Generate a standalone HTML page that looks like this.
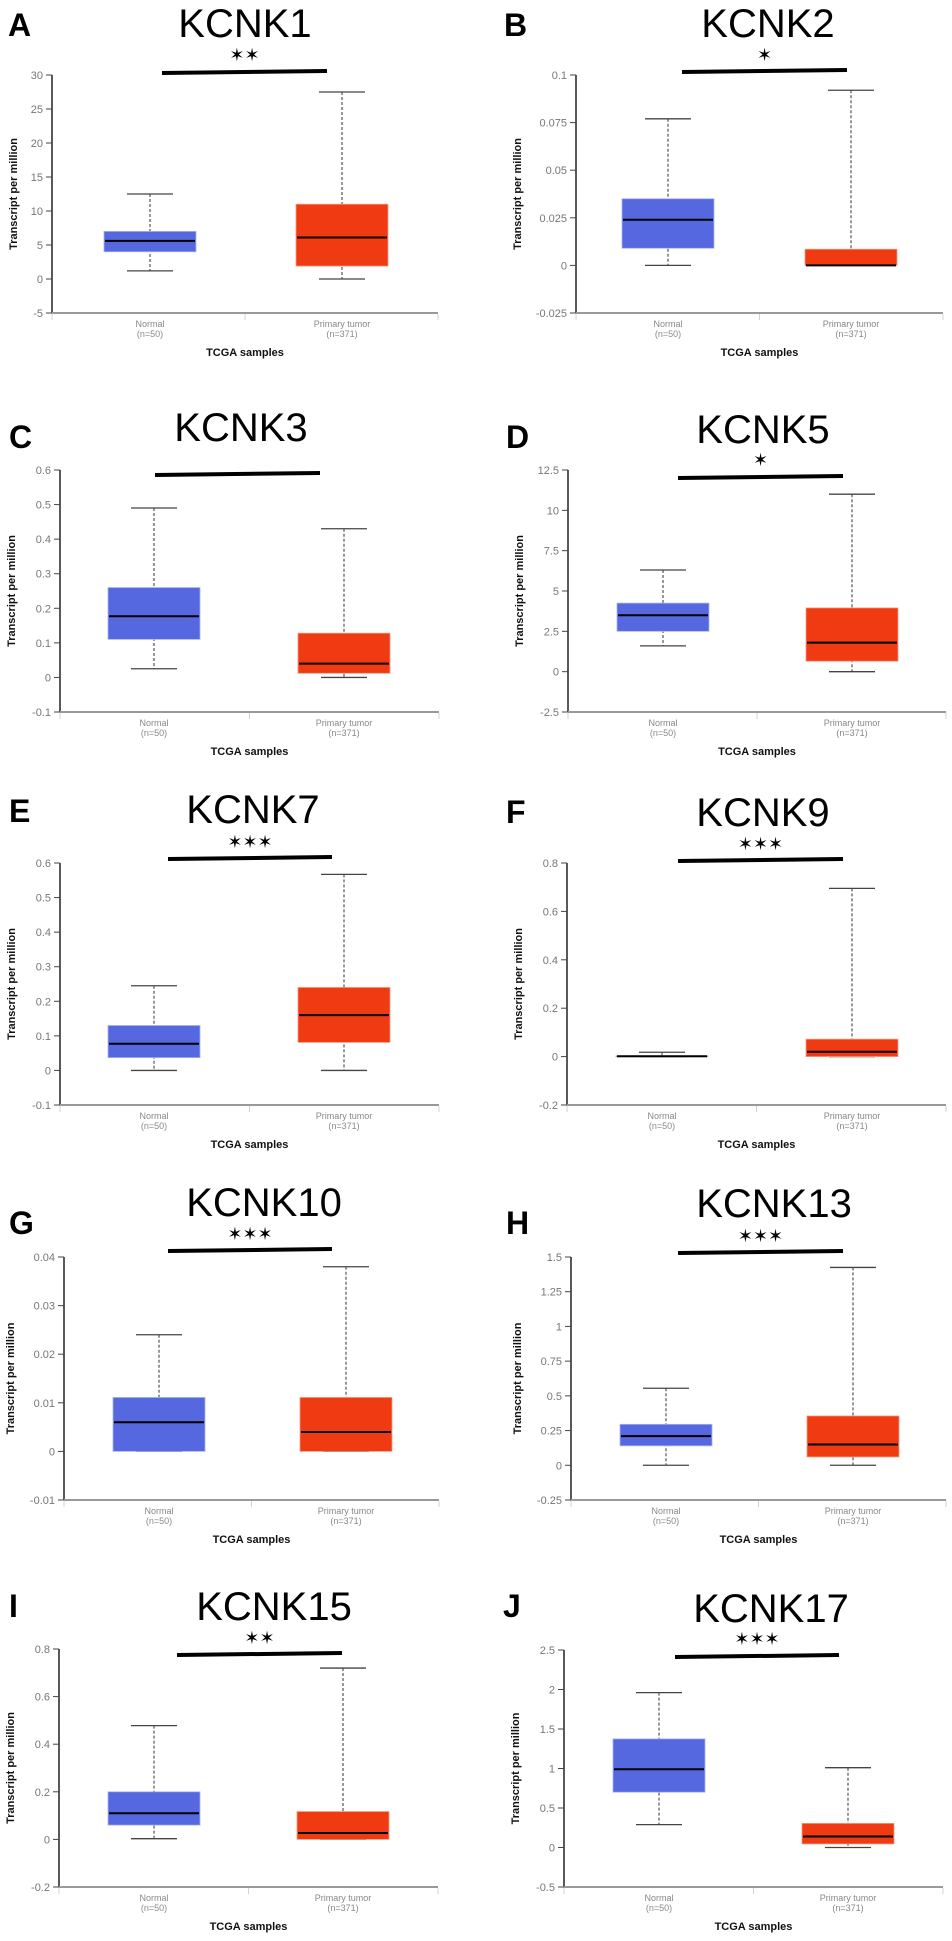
<!DOCTYPE html>
<html><head><meta charset="utf-8">
<style>
html,body{margin:0;padding:0;background:#fff;}
svg{display:block;font-family:"Liberation Sans",sans-serif;}
</style></head>
<body>
<svg id="fig" width="952" height="1941" viewBox="0 0 952 1941" xmlns="http://www.w3.org/2000/svg"></svg>
<script>
// ---- data (per panel) ----
const genes = ["KCNK1","KCNK2","KCNK3","KCNK5","KCNK7","KCNK9","KCNK10","KCNK13","KCNK15","KCNK17"];
const letters = ["A","B","C","D","E","F","G","H","I","J"];
const stars = ["✶✶","✶","","✶","✶✶✶","✶✶✶","✶✶✶","✶✶✶","✶✶","✶✶✶"];
// [min, q1, median, q3, max]
const normalStats = [
  [1.2,4,5.6,7,12.5],
  [0,0.009,0.024,0.035,0.077],
  [0.025,0.11,0.177,0.26,0.49],
  [1.6,2.5,3.5,4.25,6.3],
  [0,0.037,0.077,0.13,0.245],
  [0,0,0.0015,0.003,0.018],
  [0,0,0.006,0.0111,0.024],
  [0,0.14,0.21,0.295,0.555],
  [0.003,0.06,0.11,0.2,0.478],
  [0.29,0.7,0.99,1.375,1.96]
];
const tumorStats = [
  [0,1.9,6.1,11,27.5],
  [0,0,0,0.0085,0.092],
  [0,0.012,0.04,0.128,0.43],
  [0,0.65,1.8,3.95,11],
  [0,0.081,0.16,0.24,0.567],
  [0,0,0.02,0.072,0.695],
  [0,0,0.004,0.0111,0.038],
  [0,0.06,0.15,0.355,1.425],
  [0,0,0.027,0.117,0.72],
  [0,0.045,0.14,0.305,1.01]
];
const tickLabels = [
  ["-5","0","5","10","15","20","25","30"],
  ["-0.025","0","0.025","0.05","0.075","0.1"],
  ["-0.1","0","0.1","0.2","0.3","0.4","0.5","0.6"],
  ["-2.5","0","2.5","5","7.5","10","12.5"],
  ["-0.1","0","0.1","0.2","0.3","0.4","0.5","0.6"],
  ["-0.2","0","0.2","0.4","0.6","0.8"],
  ["-0.01","0","0.01","0.02","0.03","0.04"],
  ["-0.25","0","0.25","0.5","0.75","1","1.25","1.5"],
  ["-0.2","0","0.2","0.4","0.6","0.8"],
  ["-0.5","0","0.5","1","1.5","2","2.5"]
];
const categories = ["Normal","Primary tumor"];
const counts = ["(n=50)","(n=371)"];

// ---- layout (pixel geometry, not data) ----
const layout = [
  [52,75,313,438,150,342,245,37,8,36,54,72,162,327],
  [576,75,313,943,668,851,768,37,504,36,54,71,682,847],
  [60,470,712,439,154,344,241,441,9,448,0,474,155,320],
  [568,470,712,946,663,852,763,443,506,448,459,477,678,843],
  [60,863,1105,439,154,344,253,823,9,822,841,858,168,332],
  [567,863,1105,946,662,852,763,826,506,823,843,860,678,843],
  [64,1257,1500,439,159,346,264,1216,9,1234,1233,1250,168,332],
  [571,1257,1500,946,666,853,774,1217,506,1234,1235,1252,678,843],
  [59,1649,1887,438,154,343,274,1620,9,1617,1637,1654,177,342],
  [564,1650,1887,943,659,848,771,1622,503,1617,1638,1656,675,839]
];
const NS = "http://www.w3.org/2000/svg";
const svg = document.getElementById("fig");
function mk(tag, attrs, parent, text){
  const e = document.createElementNS(NS, tag);
  for (const k in attrs) e.setAttribute(k, attrs[k]);
  if (text !== undefined) e.textContent = text;
  (parent||svg).appendChild(e);
  return e;
}
const BLUE="#5668E0", RED="#F03A12";
for (let p=0;p<genes.length;p++){
  const L = layout[p];
  const [ax,top,bot,right,cxN,cxT,tcx,tby,lx,lby,sy,by,bx1,bx2] = L;
  const ticks = tickLabels[p].map(Number);
  const vmin = ticks[0], vmax = ticks[ticks.length-1];
  const y = v => bot - (v - vmin)/(vmax - vmin)*(bot - top);
  const maxChars = Math.max(...tickLabels[p].map(s=>s.length));
  const g = mk("g",{});
  
  
  const lt = mk("text",{x:lx,y:lby,"font-size":32,"font-weight":"bold",fill:"#000"},g,letters[p]);
  
  
  const tt = mk("text",{x:tcx,y:tby,"font-size":40,"text-anchor":"middle",fill:"#000"},g,genes[p]);
  
  
  if (stars[p]){
    const st = mk("text",{x:(bx1+bx2)/2,y:sy+7,"font-size":18,"text-anchor":"middle",fill:"#000","font-family":"DejaVu Sans, sans-serif"},g,stars[p]);
    
    
  }
  const sb = mk("line",{x1:bx1,y1:by+1,x2:bx2,y2:by-1,stroke:"#000","stroke-width":4},g);
  
  
  const ya = mk("line",{x1:ax,y1:top,x2:ax,y2:bot,stroke:"#222","stroke-width":1.5},g);
  
  
  const xa = mk("line",{x1:ax,y1:bot,x2:right,y2:bot,stroke:"#999","stroke-width":2},g);
  
  
  [ax,(ax+right)/2,right].forEach(xx=>{
    const t = mk("line",{x1:xx,y1:bot+1,x2:xx,y2:bot+7,stroke:"#c8d4e8","stroke-width":1},g);
    
    
  });
  tickLabels[p].forEach((lab,i)=>{
    const yy = y(ticks[i]);
    const tk = mk("line",{x1:ax-6,y1:yy,x2:ax,y2:yy,stroke:"#444","stroke-width":1},g);
    
    
    const tl = mk("text",{x:ax-9,y:yy+4,"font-size":11,"text-anchor":"end",fill:"#777"},g,lab);
    
    
  });
  const off = 25 + 5*maxChars;
  const yl = mk("text",{x:0,y:0,"font-size":11,"font-weight":"bold","text-anchor":"middle",fill:"#111",transform:`translate(${ax-off},${(top+bot)/2}) rotate(-90)`},g,"Transcript per million");
  
  
  const xl = mk("text",{x:(ax+right)/2,y:bot+43,"font-size":11,"font-weight":"bold","text-anchor":"middle",fill:"#111"},g,"TCGA samples");
  
  
  const sets = [normalStats[p], tumorStats[p]];
  const cxs = [cxN, cxT];
  const cols = [BLUE, RED];
  for (let k=0;k<2;k++){
    const s = sets[k], cx = cxs[k], w = 92;
    const cl = mk("text",{x:cx,y:bot+14,"font-size":9,"text-anchor":"middle",fill:"#888"},g,categories[k]);
    
    
    const cn = mk("text",{x:cx,y:bot+24,"font-size":9,"text-anchor":"middle",fill:"#888"},g,counts[k]);
    
    
    const wh = mk("line",{x1:cx,y1:y(s[4]),x2:cx,y2:y(s[0]),stroke:"#333","stroke-width":1,"stroke-dasharray":"3,2"},g);
    
    
    [s[0],s[4]].forEach(v=>{
      const c = mk("line",{x1:cx-w/4,y1:y(v),x2:cx+w/4,y2:y(v),stroke:"#444","stroke-width":1.3},g);
      
      
    });
    const bx = mk("rect",{x:cx-w/2,y:y(s[3]),width:w,height:Math.max(1,y(s[1])-y(s[3])),fill:cols[k],stroke:k?"#f59a80":"#a9b4f0","stroke-width":0.8},g);
    
    
    const md = mk("line",{x1:cx-w/2+1,y1:y(s[2]),x2:cx+w/2-1,y2:y(s[2]),stroke:"#000","stroke-width":2},g);
    
    
  }
}
</script>
</body></html>
